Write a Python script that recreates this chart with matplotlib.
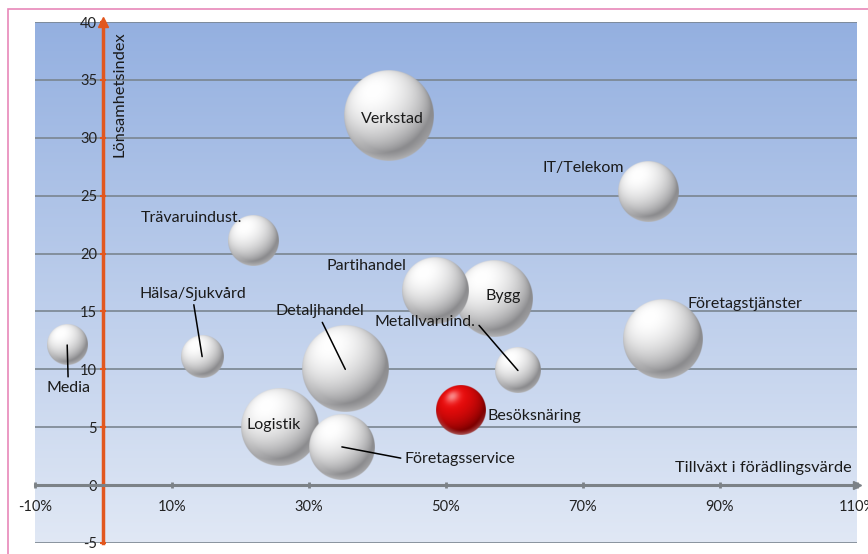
import matplotlib.pyplot as plt
import numpy as np

plt.rcParams['font.family'] = ['Lato', 'DejaVu Sans']

# Data: growth in value added (%), profitability index, bubble size
branscher = ["Verkstad", "Detaljhandel", "Företagstjänster", "Logistik", "Bygg",
             "Partihandel", "Företagsservice", "IT/Telekom", "Trävaruindust.",
             "Besöksnäring", "Metallvaruind.", "Hälsa/Sjukvård", "Media"]
tillvaxt = [41.7, 35.3, 81.7, 25.8, 57.0, 48.4, 34.8, 79.5, 21.8, 52.2, 60.5, 14.4, -5.3]
lonsamhet = [31.9, 10.0, 12.6, 5.0, 16.1, 16.8, 3.3, 25.3, 21.1, 6.5, 9.9, 11.1, 12.1]
storlek = [200, 183, 158, 150, 143, 108, 107, 89, 62, 61, 52, 44, 40]
markerad = "Besöksnäring"

xticks = [-10, 10, 30, 50, 70, 90, 110]
yticks = list(range(-5, 41, 5))

# label placement: offset in pixels (right, up) from bubble centre, alignment, leader
label_layout = {
    "Verkstad": ((3, -3), 'center', None),
    "Detaljhandel": ((-25, 58), 'center', (0.5, 0)),
    "Företagstjänster": ((24, 35), 'left', None),
    "Logistik": ((-7, 2), 'center', None),
    "Bygg": ((9, 3), 'center', None),
    "Partihandel": ((-69, 25), 'center', None),
    "Företagsservice": ((63, -12), 'left', (0, 0.5)),
    "IT/Telekom": ((-65, 24), 'center', None),
    "Trävaruindust.": ((-61, 23), 'center', None),
    "Besöksnäring": ((26, -6), 'left', None),
    "Metallvaruind.": ((-93, 48), 'center', (1, 0.6)),
    "Hälsa/Sjukvård": ((-9, 63), 'center', (0.5, 0)),
    "Media": ((1, -43), 'center', (0.5, 1)),
}


def sphere(base, edge, n=240):
    yy, xx = np.mgrid[-1:1:n * 1j, -1:1:n * 1j]
    r = np.sqrt(xx ** 2 + yy ** 2)
    z = np.sqrt(np.clip(1 - r ** 2, 0, 1))
    light = np.array([-0.35, 0.55, 0.76])
    light = light / np.linalg.norm(light)
    diff = np.clip(xx * light[0] - yy * light[1] + z * light[2], 0, 1)
    t = diff ** 0.9
    rgb = np.array(edge) * (1 - t[..., None]) + np.array(base) * t[..., None]
    # reflected light on the lower rim
    rim = np.clip((r - 0.8) / 0.2, 0, 1) * np.clip(yy, 0, 1) * 0.35
    rgb = rgb + (1 - rgb) * rim[..., None]
    spec = np.clip(diff, 0, 1) ** 25 * 0.5
    rgb = rgb + (1 - rgb) * spec[..., None]
    alpha = np.clip((1 - r) * n / 2 + 0.5, 0, 1)
    return np.dstack([np.clip(rgb, 0, 1), alpha])


W, H = 868, 554
fig = plt.figure(figsize=(W / 100, H / 100), dpi=100, facecolor='white')
ax = fig.add_axes([35 / W, 11 / H, 822 / W, 521 / H])

xmin, xmax, ymin, ymax = -10, 110, -5, 40
px_x = 822 / (xmax - xmin)
px_y = 521 / (ymax - ymin)

# background gradient
grad = np.linspace(0, 1, 256)[:, None]
top = np.array([0.58, 0.69, 0.88])
bot = np.array([0.88, 0.91, 0.96])
bg = top * (1 - grad[..., None]) + bot * grad[..., None]
ax.imshow(bg, extent=[xmin, xmax, ymin, ymax], aspect='auto', zorder=0)

ax.set_yticks(yticks)
ax.set_xticks(xticks)
ax.yaxis.grid(True, color='#7a8590', lw=1.2, zorder=1)
ax.xaxis.grid(False)
ax.set_axisbelow(True)

max_r = 45
white_ball = sphere((1, 1, 1), (0.55, 0.55, 0.56))
red_ball = sphere((0.95, 0.05, 0.05), (0.5, 0.0, 0.0))
for i, (name, x, y, s) in enumerate(zip(branscher, tillvaxt, lonsamhet, storlek)):
    r = max_r * np.sqrt(s / max(storlek))
    dx, dy = r / px_x, r / px_y
    img = red_ball if name == markerad else white_ball
    ax.imshow(img, extent=[x - dx, x + dx, y - dy, y + dy], aspect='auto',
              zorder=3 + i, interpolation='bilinear')

for name, x, y in zip(branscher, tillvaxt, lonsamhet):
    off, ha, rel = label_layout[name]
    props = None
    if rel is not None:
        props = dict(arrowstyle='-', color='black', lw=1.1, relpos=rel,
                     shrinkA=1, shrinkB=0)
    ax.annotate(name, xy=(x, y), xytext=off, textcoords='offset pixels',
                ha=ha, va='center', fontsize=11.5, color='#1a1a1a',
                arrowprops=props, zorder=30)

ax.set_xlim(xmin, xmax)
ax.set_ylim(ymin, ymax)

for side in ['top', 'right']:
    ax.spines[side].set_visible(False)
ax.spines['left'].set_position(('data', 0))
ax.spines['left'].set_color('#e2571e')
ax.spines['left'].set_linewidth(2.5)
ax.spines['bottom'].set_position(('data', 0))
ax.spines['bottom'].set_color('#7c8287')
ax.spines['bottom'].set_linewidth(2.2)
ax.spines['left'].set_zorder(25)
ax.spines['bottom'].set_zorder(25)

ax.tick_params(axis='y', direction='inout', length=5, width=1.5, color='#e2571e',
               labelsize=10.5, labelcolor='#222222', pad=2)
ax.tick_params(axis='x', direction='inout', length=5, width=2, color='#7c8287',
               labelsize=10.5, labelcolor='#222222', pad=8)
ax.set_xticklabels([f"{t}%" for t in xticks])
ax.set_yticklabels([str(t) for t in yticks])

# axis arrow heads
ax.plot([0], [ymax], marker='^', color='#e2571e', ms=7, clip_on=False, zorder=26)
ax.plot([xmax], [0], marker='>', color='#7c8287', ms=6, clip_on=False, zorder=26)

ax.text(2.4, 39.2, "Lönsamhetsindex", rotation=90, ha='center', va='top',
        fontsize=11.8, color='#1a1a1a', zorder=30)
ax.text(109.3, 1.5, "Tillväxt i förädlingsvärde", ha='right', va='center',
        fontsize=11.8, color='#1a1a1a', zorder=30)

# pink frame (top and left edges visible)
fig.patches.append(plt.Rectangle((8 / W, -0.05), 1.0, 1 - 9 / H + 0.05,
                                 transform=fig.transFigure, fill=False,
                                 edgecolor='#e887b9', lw=1.2))

fig.savefig('out.png', dpi=100, facecolor='white')
